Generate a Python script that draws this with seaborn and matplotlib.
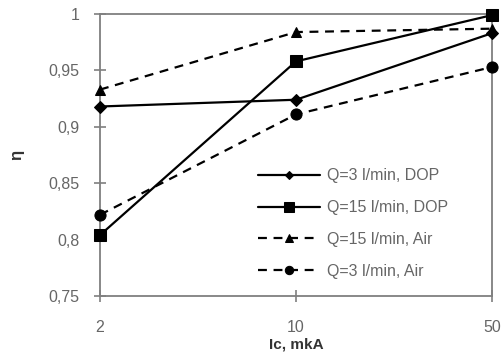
import matplotlib
matplotlib.use("Agg")
import matplotlib.pyplot as plt
import seaborn as sns
import pandas as pd
from matplotlib.ticker import FuncFormatter

currents = ["2", "10", "50"]
q3_dop = [0.918, 0.924, 0.983]
q15_dop = [0.804, 0.958, 0.999]
q15_air = [0.933, 0.984, 0.987]
q3_air = [0.822, 0.911, 0.953]
labels = ["Q=3 l/min, DOP", "Q=15 l/min, DOP", "Q=15 l/min, Air", "Q=3 l/min, Air"]
yticks = [0.75, 0.8, 0.85, 0.9, 0.95, 1.0]

sns.set_theme(style="white")
plt.rcParams['font.family'] = ['Liberation Sans', 'DejaVu Sans']

fig = plt.figure(figsize=(5.01, 3.62), dpi=100)
ax = fig.add_axes([0.1996, 0.1823, 0.7824, 0.779])

series = [q3_dop, q15_dop, q15_air, q3_air]
markers = ["D", "s", "^", "o"]
msizes = [6, 8, 7, 8]
leg_msizes = [4.5, 6.5, 5.5, 6]
styles = ["-", "-", (0, (4, 3)), (0, (4, 3))]
for vals, lab, m, ms, ls in zip(series, labels, markers, msizes, styles):
    df = pd.DataFrame({"x": currents, "y": vals})
    sns.lineplot(data=df, x="x", y="y", ax=ax, color="black", marker=m,
                 markersize=ms, linestyle=ls, linewidth=1.6, label=lab,
                 markeredgecolor="black", clip_on=False, zorder=3)

ax.set_xlim(0, 2)
ax.set_ylim(0.75, 1.0)
ax.set_yticks(yticks)
ax.yaxis.set_major_formatter(FuncFormatter(lambda v, p: f"{v:g}".replace(".", ",")))
for s in ax.spines.values():
    s.set_color("#7f7f7f")
    s.set_linewidth(1.3)
ax.tick_params(axis="both", direction="inout", length=8, width=1.2,
               colors="#7f7f7f", labelcolor="#666666", labelsize=11.5)
ax.tick_params(axis="x", pad=13)
ax.tick_params(axis="y", pad=11)
ax.tick_params(left=True, bottom=True)
ax.set_xlabel("Ic, mkA", fontsize=11, fontweight="bold", color="#333333", labelpad=2)
ax.set_ylabel("η", fontsize=12, fontweight="bold", color="#333333", labelpad=17)

leg = ax.legend(loc="center left", bbox_to_anchor=(0.395, 0.257), frameon=False,
                fontsize=11.5, handlelength=3.9, labelspacing=1.05,
                handletextpad=0.4, borderpad=0.2, borderaxespad=0.0)
for t in leg.get_texts():
    t.set_color("#666666")
for h, s in zip(leg.legend_handles, leg_msizes):
    h.set_markersize(s)

fig.savefig("out.png", dpi=100)
